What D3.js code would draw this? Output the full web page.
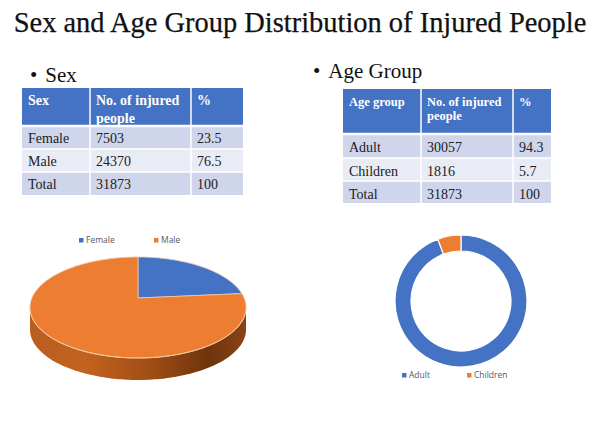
<!DOCTYPE html>
<html><head><meta charset="utf-8">
<script src="https://cdn.jsdelivr.net/npm/d3@7"></script>
<style>body{margin:0;background:#fff}svg{display:block}</style>
</head><body><svg id="c" width="600" height="421"></svg>
<script>
// ---- data ----
const titleText = "Sex and Age Group Distribution of Injured People";
const sexHeader = ["Sex", "No. of injured\npeople", "%"];
const sexCategories = ["Female", "Male", "Total"];
const sexCounts = [7503, 24370, 31873];
const sexPercents = ["23.5", "76.5", "100"];
const ageHeader = ["Age group", "No. of injured\npeople", "%"];
const ageCategories = ["Adult", "Children", "Total"];
const ageCounts = [30057, 1816, 31873];
const agePercents = ["94.3", "5.7", "100"];
const sliceColors = ["#4472C4", "#ED7D31"];

const svg = d3.select("#c");
const serif = "'Liberation Serif','Times New Roman',serif";
const sans = "'Open Sans','Noto Sans',sans-serif";

// title
const t = svg.append("text").attr("x", 300).attr("y", 32).attr("text-anchor", "middle")
  .attr("font-family", serif).attr("font-size", 28).attr("fill", "#111")
  .attr("stroke", "#111").attr("stroke-width", 0.25).text(titleText);
const tw = t.node().getComputedTextLength();
t.attr("font-size", 28 * 573 / tw);

// bullets
function bullet(x, y, label) {
  const g = svg.append("text").attr("x", x).attr("y", y).attr("font-family", serif)
    .attr("font-size", 21).attr("fill", "#111");
  g.append("tspan").text("\u2022");
  g.append("tspan").attr("dx", 8).text(label);
}
bullet(30, 82, "Sex");
bullet(313, 78, "Age Group");

// tables
function table(cfg) {
  const g = svg.append("g");
  const cols = cfg.cols; // x edges
  const rowsY = cfg.rows; // y edges
  const rowsData = cfg.cats.map((c, i) => [c, String(cfg.counts[i]), cfg.pcts[i]]);
  for (let j = 0; j < 3; j++) {
    g.append("rect").attr("x", cols[j]).attr("y", rowsY[0]).attr("width", cols[j + 1] - cols[j])
      .attr("height", rowsY[1] - rowsY[0]).attr("fill", "#4472C4");
    const lines = cfg.header[j].split("\n");
    lines.forEach((ln, k) => {
      g.append("text").attr("x", cols[j] + 6).attr("y", rowsY[0] + cfg.hBase + k * cfg.hLine)
        .attr("font-family", serif).attr("font-weight", "bold").attr("font-size", cfg.hSize)
        .attr("fill", "#fff").text(ln);
    });
  }
  rowsData.forEach((r, i) => {
    for (let j = 0; j < 3; j++) {
      g.append("rect").attr("x", cols[j]).attr("y", rowsY[i + 1]).attr("width", cols[j + 1] - cols[j])
        .attr("height", rowsY[i + 2] - rowsY[i + 1]).attr("fill", i % 2 === 0 ? "#CFD5EA" : "#E9EBF5");
      g.append("text").attr("x", cols[j] + 6).attr("y", rowsY[i + 1] + cfg.bBase)
        .attr("font-family", serif).attr("font-size", cfg.bSize).attr("fill", "#222").text(r[j]);
    }
  });
  cols.slice(1, -1).forEach(x => g.append("line").attr("x1", x).attr("x2", x)
    .attr("y1", rowsY[0]).attr("y2", rowsY[rowsY.length - 1]).attr("stroke", "#fff").attr("stroke-width", 1.5));
  rowsY.slice(1, -1).forEach(y => g.append("line").attr("x1", cols[0]).attr("x2", cols[cols.length - 1])
    .attr("y1", y).attr("y2", y).attr("stroke", "#fff").attr("stroke-width", y === rowsY[1] ? 2.5 : 1.5));
}
table({cols: [22, 90, 191, 243], rows: [88, 126, 149, 172, 195], header: sexHeader,
  cats: sexCategories, counts: sexCounts, pcts: sexPercents, hBase: 17, hLine: 18, hSize: 14, bBase: 17, bSize: 14});
table({cols: [343, 421, 513, 551], rows: [89, 134, 158, 181, 203], header: ageHeader,
  cats: ageCategories, counts: ageCounts, pcts: agePercents, hBase: 17, hLine: 13.5, hSize: 12.5, bBase: 18, bSize: 14});

// legend helper
function legend(items, xs, y) {
  items.forEach((name, i) => {
    svg.append("rect").attr("x", xs[i]).attr("y", y - 5).attr("width", 4.5).attr("height", 4.5).attr("fill", sliceColors[i]);
    svg.append("text").attr("x", xs[i] + 7).attr("y", y).attr("font-family", sans).attr("font-size", 8.5)
      .attr("fill", "#595959").text(name);
  });
}

// ---- 3D pie (Sex) ----
const pieGen = d3.pie().sort(null).value(d => d);
const sexArcs = pieGen(sexCounts.slice(0, 2));
const cx = 138, cy = 298, p = 0.188, k = 48.7, c = 106.1, depth = 22;
function proj(a, dy) {
  const u = Math.sin(a), v = -Math.cos(a), w = 1 - p * v;
  return [cx + c * u / w, cy + k * v / w + (dy || 0)];
}
function arcPts(a0, a1, dy) {
  const n = Math.max(2, Math.ceil((a1 - a0) / 0.02));
  return d3.range(n + 1).map(i => proj(a0 + (a1 - a0) * i / n, dy));
}
const defs = svg.append("defs");
const grad = defs.append("linearGradient").attr("id", "side").attr("gradientUnits", "userSpaceOnUse")
  .attr("x1", 31).attr("x2", 247).attr("y1", 0).attr("y2", 0);
[[0, "#b85e20"], [0.25, "#c2631f"], [0.55, "#a14d15"], [0.82, "#6e340d"], [1, "#8a4415"]]
  .forEach(s => grad.append("stop").attr("offset", s[0]).attr("stop-color", s[1]));
const aR = Math.acos(-p), aL = 2 * Math.PI - Math.acos(-p);
const sidePts = arcPts(aR, aL, 0).concat(arcPts(aR, aL, depth).reverse());
svg.append("path").attr("d", d3.line()(sidePts) + "Z").attr("fill", "url(#side)");
sexArcs.forEach((s, i) => {
  const pts = [[cx, cy]].concat(arcPts(s.startAngle, s.endAngle, 0));
  svg.append("path").attr("d", d3.line()(pts) + "Z").attr("fill", sliceColors[i])
    .attr("stroke", "#f3c9a8").attr("stroke-width", 0.8).attr("stroke-linejoin", "round");
});
svg.append("path").attr("d", d3.line()(arcPts(aR, aL, 0))).attr("fill", "none")
  .attr("stroke", "#f6c6a0").attr("stroke-width", 1);
legend(sexCategories.slice(0, 2), [79, 154], 243);

// ---- donut (Age) ----
const ageArcs = pieGen(ageCounts.slice(0, 2));
const arcGen = d3.arc().innerRadius(50).outerRadius(66);
svg.append("g").attr("transform", "translate(461,301)").selectAll("path").data(ageArcs).join("path")
  .attr("d", arcGen).attr("fill", (d, i) => sliceColors[i]).attr("stroke", "#fff").attr("stroke-width", 1.2);
legend(ageCategories.slice(0, 2), [402, 467], 378);
</script></body></html>
